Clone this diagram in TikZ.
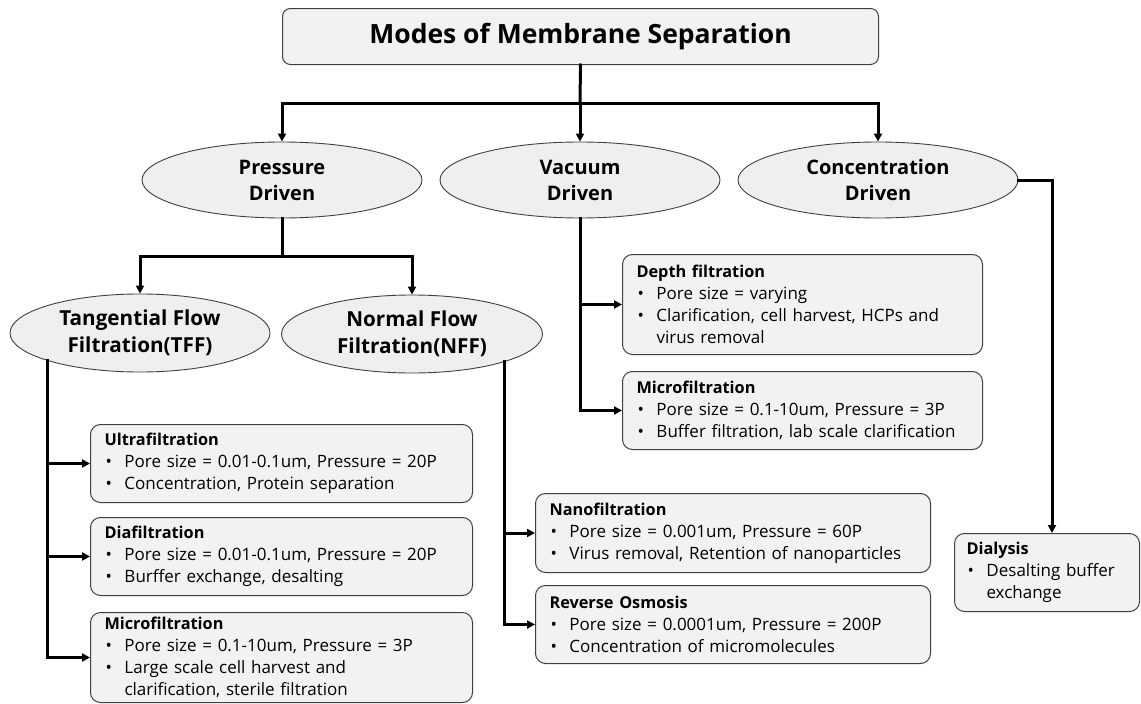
\documentclass[tikz,border=0pt]{standalone}
\usepackage{fontspec}
\setmainfont{Open Sans}
\usetikzlibrary{shapes.geometric,arrows.meta,positioning}
\definecolor{boxfill}{HTML}{F2F2F2}
\definecolor{ellfill}{HTML}{EFEFEF}
\definecolor{edge}{HTML}{404040}
\newcommand\itm[1]{\makebox[20pt][l]{\hspace{1pt}•}#1}
\newcommand\cnt[1]{\hspace{20pt}#1}
\tikzset{
  infobox/.style={draw=edge, line width=1pt, fill=boxfill, rounded corners=10pt,
    anchor=north west, align=left, inner xsep=14pt, inner ysep=4pt,
    font=\fontsize{17}{22}\selectfont},
  modeell/.style={draw=edge, line width=0.9pt, fill=ellfill, ellipse, inner sep=0pt,
    align=center, font=\bfseries\fontsize{20}{26}\selectfont},
  flowell/.style={modeell, font=\bfseries\fontsize{20.7}{27.5}\selectfont},
  link/.style={line width=3pt, line cap=rect},
  arr/.style={link, -{Triangle[length=8pt,width=8pt]}}
}
\newcommand\bt[1]{\textbf{\fontsize{16.3}{22}\selectfont #1}}
\begin{document}
\begin{tikzpicture}[x=1pt,y=-1pt]
\useasboundingbox (0,0) rectangle (1141,704);
% title
\node[draw=edge, line width=1pt, fill=boxfill, rounded corners=8pt,
  minimum width=596, minimum height=56, anchor=north west,
  font=\bfseries\fontsize{26.5}{30}\selectfont] (title) at (282,8) {Modes of Membrane Separation};
% level 1 ellipses
\node[modeell, minimum width=280, minimum height=76] (pd) at (282,180) {Pressure\\Driven};
\node[modeell, minimum width=280, minimum height=76] (vd) at (580,180) {Vacuum\\Driven};
\node[modeell, minimum width=280, minimum height=76] (cd) at (878,180) {Concentration\\Driven};
% level 2 ellipses
\node[flowell, minimum width=260, minimum height=78] (tff) at (140,333) {Tangential Flow\\Filtration(TFF)};
\node[flowell, minimum width=261, minimum height=78] (nff) at (412,334) {Normal Flow\\Filtration(NFF)};
% TFF boxes
\node[infobox, minimum width=382, minimum height=78, text width=354] (uf) at (90,424)
  {\bt{Ultrafiltration}\\\itm{Pore size = 0.01-0.1um, Pressure = 20P}\\\itm{Concentration, Protein separation}};
\node[infobox, minimum width=382, minimum height=78, text width=354] (df) at (90,517)
  {\bt{Diafiltration}\\\itm{Pore size = 0.01-0.1um, Pressure = 20P}\\\itm{Burffer exchange, desalting}};
\node[infobox, minimum width=382, minimum height=90, text width=354] (mft) at (90,612)
  {\bt{Microfiltration}\\\itm{Pore size = 0.1-10um, Pressure = 3P}\\\itm{Large scale cell harvest and}\\\cnt{clarification, sterile filtration}};
% NFF boxes
\node[infobox, minimum width=395, minimum height=79, text width=367] (nano) at (535,493)
  {\bt{Nanofiltration}\\\itm{Pore size = 0.001um, Pressure = 60P}\\\itm{Virus removal, Retention of nanoparticles}};
\node[infobox, minimum width=395, minimum height=78, text width=367] (ro) at (535,585)
  {\bt{Reverse Osmosis}\\\itm{Pore size = 0.0001um, Pressure = 200P}\\\itm{Concentration of micromolecules}};
% vacuum boxes
\node[infobox, minimum width=360, minimum height=100, text width=332] (depth) at (622,254)
  {\bt{Depth filtration}\\\itm{Pore size = varying}\\\itm{Clarification, cell harvest, HCPs and}\\\cnt{virus removal}};
\node[infobox, minimum width=360, minimum height=78, text width=332] (mfv) at (622,371)
  {\bt{Microfiltration}\\\itm{Pore size = 0.1-10um, Pressure = 3P}\\\itm{Buffer filtration, lab scale clarification}};
% dialysis
\node[infobox, minimum width=185, minimum height=78, text width=161, inner xsep=12pt] (dia) at (954,533)
  {\bt{Dialysis}\\\itm{Desalting buffer}\\\cnt{exchange}};
% connectors
\coordinate (bus) at (580,103);
\draw[link] (title.south) -- (bus);
\draw[arr] (bus) -| (pd.north);
\draw[arr] (bus) -- (vd.north);
\draw[arr] (bus) -| (cd.north);
\coordinate (pbus) at (282,256);
\draw[link] (pd.south) -- (pbus);
\draw[arr] (pbus) -| (tff.north);
\draw[arr] (pbus) -| (nff.north);
\draw[arr] (tff.south west) |- (uf.west);
\draw[arr] (tff.south west) |- (df.west);
\draw[arr] (tff.south west) |- (mft.west);
\draw[arr] (nff.south east) |- (nano.west);
\draw[arr] (nff.south east) |- (ro.west);
\draw[arr] (vd.south) |- (depth.west);
\draw[arr] (vd.south) |- (mfv.west);
\coordinate (dtop) at (1052,533);
\draw[arr] (cd.east) -| (dtop);
\end{tikzpicture}
\end{document}
